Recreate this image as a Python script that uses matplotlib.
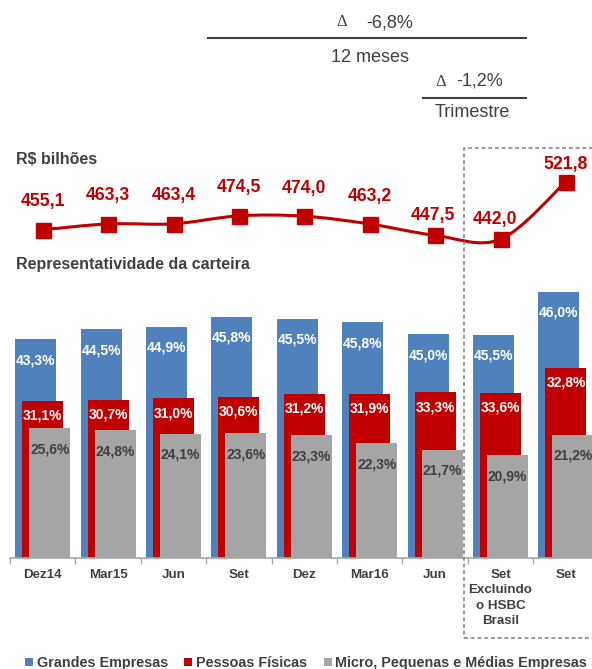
import matplotlib.pyplot as plt
import numpy as np
from matplotlib.lines import Line2D
from matplotlib.patches import Patch, PathPatch, Rectangle
from matplotlib.path import Path

plt.rcParams['font.family'] = ['Liberation Sans', 'DejaVu Sans']

# carteira de crédito (R$ bilhões) e participação de cada segmento (%)
periods = ['Dez14', 'Mar15', 'Jun', 'Set', 'Dez', 'Mar16', 'Jun',
           'Set\nExcluindo\no HSBC\nBrasil', 'Set']
carteira = [455.1, 463.3, 463.4, 474.5, 474.0, 463.2, 447.5, 442.0, 521.8]
grandes = [43.3, 44.5, 44.9, 45.8, 45.5, 45.8, 45.0, 45.5, 46.0]
pessoas = [31.1, 30.7, 31.0, 30.6, 31.2, 31.9, 33.3, 33.6, 32.8]
mpme = [25.6, 24.8, 24.1, 23.6, 23.3, 22.3, 21.7, 20.9, 21.2]
series_names = ['Grandes Empresas', 'Pessoas Físicas',
                'Micro, Pequenas e Médias Empresas']

BLUE = '#4F81BD'
RED = '#C00000'
GRAY = '#A5A5A5'
TEXT = '#404040'

W, H = 592, 669
fig = plt.figure(figsize=(W / 100, H / 100), dpi=100)


def px_axes(left, top, right, bottom):
    return fig.add_axes([left / W, 1 - bottom / H, (right - left) / W, (bottom - top) / H])


def fmt(v, suffix=''):
    return f'{v:.1f}'.replace('.', ',') + suffix


x = np.arange(len(periods))
total = np.array(carteira)

# --- barras: valor de cada segmento = participação x carteira
ax = px_axes(10, 225.1, 598.6, 557.5)
ax.set_xlim(-0.5, len(periods) - 0.5)
ax.set_ylim(0, 300)
bar_w = 0.627
shift = 0.108
label_specs = [(grandes, BLUE, -shift, 'white', 21),
               (pessoas, RED, 0.0, 'white', 15),
               (mpme, GRAY, shift, TEXT, 21)]
for share, color, dx, tcolor, dy in label_specs:
    heights = total * np.array(share) / 100
    ax.bar(x + dx, heights, width=bar_w, color=color, linewidth=0)
    for xi, h, s in zip(x, heights, share):
        ax.annotate(fmt(s, '%'), (xi + dx, h), xytext=(0, -dy),
                    textcoords='offset pixels', ha='center', va='center',
                    color=tcolor, fontsize=10, fontweight='bold')

for side in ['left', 'right', 'top']:
    ax.spines[side].set_visible(False)
ax.spines['bottom'].set_color('#A6A6A6')
ax.spines['bottom'].set_linewidth(1.2)
ax.set_yticks([])
ax.set_xticks(np.arange(-0.5, len(periods), 1), [''] * (len(periods) + 1))
ax.tick_params(axis='x', which='major', length=4, width=1, color='#A6A6A6')
ax.set_xticks(x, periods, minor=True, fontweight='bold', linespacing=1.4)
ax.tick_params(axis='x', which='minor', length=0, pad=8, labelsize=9.6,
               labelcolor=TEXT)
ax.set_facecolor('none')

# --- linha suavizada da carteira total
lax = px_axes(10, 130, 598.6, 260)
lax.set_xlim(-0.5, len(periods) - 0.5)
lax.set_ylim(413.3, 593.4)
lax.axis('off')

pts = np.column_stack([x, total])
n = len(pts)
verts = [pts[0]]
codes = [Path.MOVETO]
for i in range(n - 1):
    p0 = pts[i - 1] if i > 0 else pts[i]
    p1, p2 = pts[i], pts[i + 1]
    p3 = pts[i + 2] if i + 2 < n else pts[i + 1]
    verts += [p1 + (p2 - p0) / 6, p2 - (p3 - p1) / 6, p2]
    codes += [Path.CURVE4] * 3
lax.add_patch(PathPatch(Path(verts, codes), facecolor='none', edgecolor=RED,
                        linewidth=2.2, clip_on=False, zorder=2))
lax.plot(x, total, 's', color=RED, markersize=10.8, clip_on=False, zorder=3)

label_dx = [0, 0, 0, 0, 0, 0, -2, -6, 0]
label_dy = [28, 28, 28, 28, 28, 27, 20, 20, 17]
for xi, v, ddx, ddy in zip(x, carteira, label_dx, label_dy):
    lax.annotate(fmt(v), (xi, v), xytext=(ddx, ddy), textcoords='offset pixels',
                 ha='center', va='center', color=RED, fontsize=12.7,
                 fontweight='bold')

# --- títulos
fig.text(16 / W, 1 - 160 / H, 'R\\$ bilhões', ha='left', va='center',
         fontsize=11.5, fontweight='bold', color=TEXT)
fig.text(16 / W, 1 - 264 / H, 'Representatividade da carteira', ha='left',
         va='center', fontsize=11.5, fontweight='bold', color=TEXT)

# --- variações
def delta_block(dx_px, val_px, y_px, value, x0, x1, line_y, caption, cap_x, cap_y):
    fig.text(dx_px / W, 1 - y_px / H, 'Δ', ha='left', va='center',
             fontsize=12, color=TEXT, family=['Liberation Serif', 'DejaVu Serif'])
    fig.text(val_px / W, 1 - y_px / H, value, ha='left', va='center',
             fontsize=13, color=TEXT)
    fig.add_artist(Line2D([x0 / W, x1 / W], [1 - line_y / H] * 2,
                          color=TEXT, linewidth=1.5))
    fig.text(cap_x / W, 1 - cap_y / H, caption, ha='center', va='center',
             fontsize=13, color=TEXT)


delta_block(336.5, 366.5, 22.5, '-6,8%', 208, 526, 38.3, '12 meses', 370, 57.3)
delta_block(435, 456.5, 81.5, '-1,2%', 422.7, 526, 97.7, 'Trimestre', 472.3, 112.7)

# --- destaque tracejado
fig.add_artist(Rectangle((463.5 / W, 1 - 637.7 / H), (605 - 463.5) / W,
                         (637.7 - 147.5) / H, transform=fig.transFigure,
                         fill=False, edgecolor='#7F7F7F', linewidth=1.1,
                         linestyle=(0, (2.6, 1.8))))

# --- legenda
handles = [Patch(facecolor=c, edgecolor='none', label=l)
           for c, l in zip([BLUE, RED, GRAY], series_names)]
fig.legend(handles=handles, loc='center left', bbox_to_anchor=(25 / W, 1 - 663 / H),
           ncol=3, frameon=False, borderpad=0, borderaxespad=0,
           handlelength=0.55, handleheight=0.55, handletextpad=0.25,
           columnspacing=1.15, labelcolor=TEXT,
           prop={'weight': 'bold', 'size': 10.4})

fig.savefig('out.png', dpi=100)
